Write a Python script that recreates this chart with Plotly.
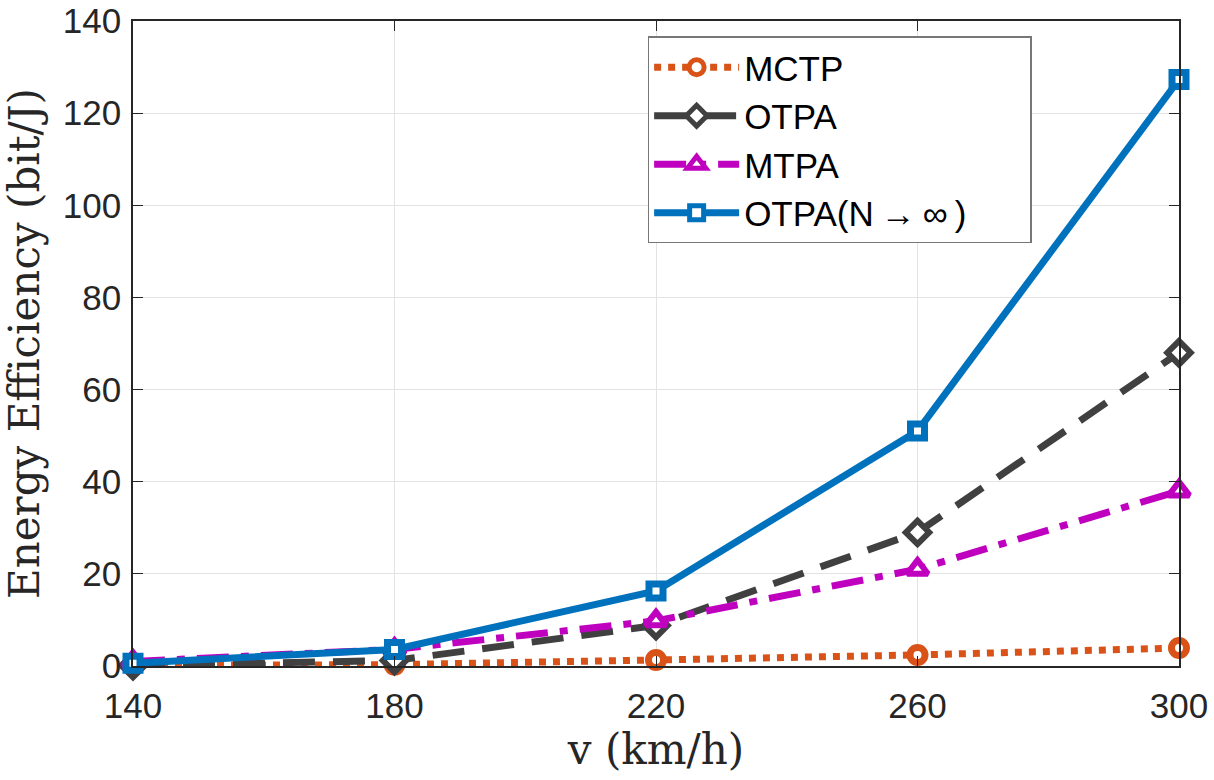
import plotly.graph_objects as go

speeds = [140, 180, 220, 260, 300]
mctp = [0.1, 0.3, 1.3, 2.4, 3.9]
otpa = [0.1, 1.2, 8.8, 29.0, 68.0]
mtpa = [1.0, 3.6, 9.8, 21.0, 38.0]
otpa_inf = [0.6, 3.6, 16.3, 51.0, 127.3]
names = ["MCTP", "OTPA", "MTPA", "OTPA(N\u2009→\u2009∞\u2009)\u00a0\u00a0\u00a0\u00a0\u00a0\u00a0"]

series = [
    (names[0], mctp, "#D95319", "7px,7px", "circle", 15, 7),
    (names[1], otpa, "#404040", "32px,18px", "diamond", 18, 6),
    (names[2], mtpa, "#BF00BF", "32px,12px,8px,12px", "triangle-up", 18, 6),
    (names[3], otpa_inf, "#0072BD", "solid", "square", 14, 7),
]

fig = go.Figure()
for name, vals, col, dash, sym, msize, mlw in series:
    fig.add_trace(go.Scatter(
        x=speeds, y=vals, name=name, mode="lines+markers",
        line=dict(color=col, width=7, dash=dash),
        marker=dict(symbol=sym, size=msize, color="white",
                    line=dict(color=col, width=mlw)),
        cliponaxis=False,
    ))

axis_common = dict(
    showline=True, linecolor="#262626", linewidth=1.5, mirror="ticks",
    ticks="inside", ticklen=10, tickcolor="#262626",
    showgrid=True, gridcolor="#E3E3E3", gridwidth=1,
    zeroline=False, ticklabeloverflow="allow", automargin=False,
    tickfont=dict(family="Liberation Sans, Arial", size=35, color="#262626"),
)
title_font = dict(family="DejaVu Serif, serif", size=42, color="#262626")

fig.update_xaxes(
    range=[140, 300], tickvals=[140, 180, 220, 260, 300],
    ticklabelstandoff=8,
    title=dict(text="v (km/h)", font=title_font, standoff=0),
    **axis_common,
)
fig.update_yaxes(
    range=[0, 140], tickvals=[0, 20, 40, 60, 80, 100, 120, 140],
    ticklabelstandoff=3,
    title=dict(text="Energy Efficiency (bit/J)", font=title_font, standoff=18),
    **axis_common,
)

fig.update_layout(
    width=1214, height=780,
    margin=dict(l=133, r=35, t=21, b=114),
    plot_bgcolor="white", paper_bgcolor="white",
    legend=dict(
        x=0.492, y=0.976, xanchor="left", yanchor="top",
        bgcolor="white", bordercolor="#777777", borderwidth=1.5,
        font=dict(family="Liberation Sans, Arial", size=35, color="black"),
        itemwidth=85, tracegroupgap=0,
    ),
    showlegend=True,
)

fig.write_html("out.html")
